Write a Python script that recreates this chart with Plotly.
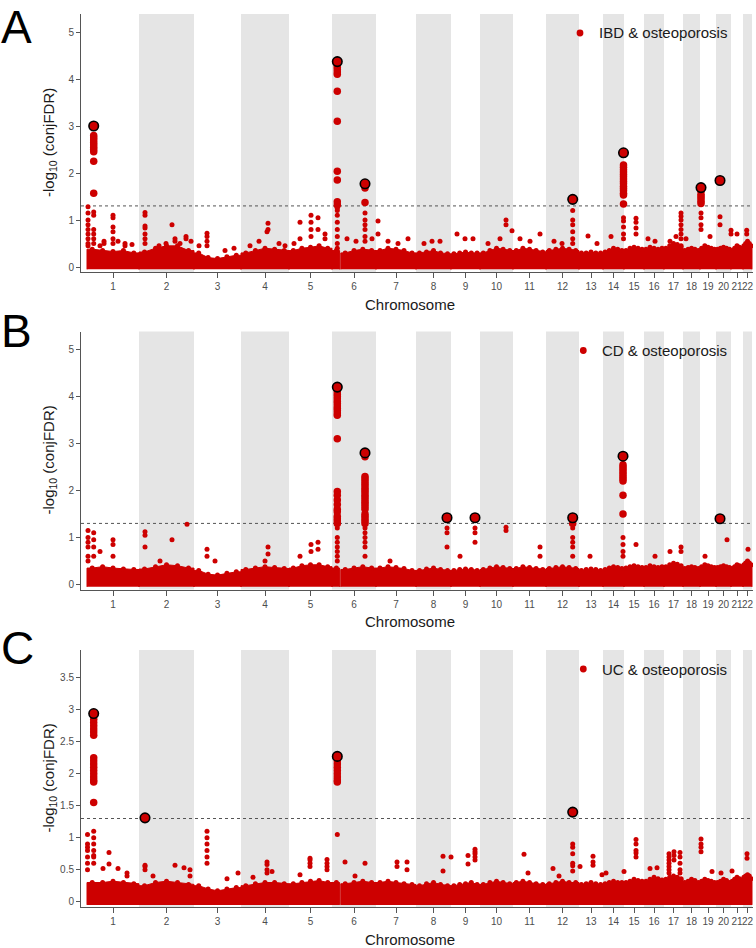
import plotly.graph_objects as go

# ---------------- data ----------------
chrom_names = [str(i) for i in range(1, 23)]
# relative span of each chromosome on the genome axis (SNP-index units)
chrom_span = [52, 55, 47, 48, 43, 44, 40, 35, 29, 33, 33, 33, 24, 21, 20, 20, 19, 17, 16, 15, 12, 9]

panel_labels = ["A", "B", "C"]
legend_labels = ["IBD & osteoporosis", "CD & osteoporosis", "UC & osteoporosis"]
threshold = 1.3

# excluded region (MHC) that leaves a thin gap in the point mass: chrom, from, to
mass_gap = (6, 7.6, 8.8)

# upper envelope of the dense point mass, 5 values per chromosome
A_env = [
    [0.38, 0.35, 0.33, 0.35, 0.30], [0.32, 0.40, 0.45, 0.45, 0.35], [0.30, 0.20, 0.18, 0.22, 0.25],
    [0.30, 0.35, 0.40, 0.38, 0.35], [0.35, 0.40, 0.42, 0.45, 0.40], [0.35, 0.30, 0.35, 0.38, 0.35],
    [0.35, 0.40, 0.38, 0.35, 0.30], [0.30, 0.32, 0.35, 0.30, 0.28], [0.28, 0.30, 0.32, 0.30, 0.30],
    [0.30, 0.35, 0.40, 0.38, 0.35], [0.35, 0.40, 0.38, 0.35, 0.32], [0.35, 0.38, 0.40, 0.38, 0.35],
    [0.30, 0.30, 0.32, 0.30, 0.30], [0.32, 0.35, 0.40, 0.38, 0.35], [0.35, 0.40, 0.42, 0.40, 0.38],
    [0.38, 0.42, 0.40, 0.38, 0.40], [0.40, 0.45, 0.50, 0.48, 0.45], [0.35, 0.38, 0.40, 0.38, 0.35],
    [0.40, 0.45, 0.42, 0.40, 0.38], [0.38, 0.40, 0.42, 0.40, 0.38], [0.35, 0.40, 0.45, 0.42, 0.40],
    [0.45, 0.50, 0.55, 0.50, 0.45]]
B_env = [
    [0.35, 0.38, 0.35, 0.33, 0.32], [0.33, 0.38, 0.42, 0.40, 0.35], [0.30, 0.22, 0.20, 0.24, 0.27],
    [0.32, 0.35, 0.38, 0.36, 0.34], [0.35, 0.40, 0.42, 0.42, 0.38], [0.35, 0.32, 0.35, 0.38, 0.35],
    [0.35, 0.38, 0.36, 0.34, 0.30], [0.30, 0.33, 0.35, 0.32, 0.30], [0.30, 0.32, 0.33, 0.32, 0.30],
    [0.32, 0.35, 0.38, 0.36, 0.34], [0.34, 0.38, 0.36, 0.34, 0.32], [0.34, 0.36, 0.38, 0.36, 0.34],
    [0.30, 0.32, 0.33, 0.32, 0.30], [0.32, 0.35, 0.38, 0.36, 0.34], [0.35, 0.38, 0.40, 0.38, 0.36],
    [0.36, 0.40, 0.38, 0.36, 0.38], [0.38, 0.42, 0.45, 0.43, 0.40], [0.34, 0.36, 0.38, 0.36, 0.34],
    [0.38, 0.42, 0.40, 0.38, 0.36], [0.36, 0.38, 0.40, 0.38, 0.36], [0.34, 0.38, 0.42, 0.40, 0.38],
    [0.42, 0.46, 0.50, 0.46, 0.42]]
C_env = [
    [0.30, 0.30, 0.32, 0.30, 0.28], [0.25, 0.30, 0.32, 0.30, 0.27], [0.25, 0.20, 0.17, 0.20, 0.22],
    [0.25, 0.28, 0.30, 0.30, 0.28], [0.28, 0.30, 0.32, 0.33, 0.30], [0.30, 0.28, 0.30, 0.32, 0.30],
    [0.30, 0.32, 0.30, 0.28, 0.27], [0.25, 0.28, 0.30, 0.27, 0.25], [0.25, 0.27, 0.28, 0.30, 0.27],
    [0.27, 0.30, 0.32, 0.30, 0.28], [0.30, 0.32, 0.30, 0.28, 0.27], [0.28, 0.30, 0.32, 0.30, 0.30],
    [0.27, 0.28, 0.30, 0.28, 0.27], [0.28, 0.30, 0.32, 0.30, 0.30], [0.30, 0.32, 0.35, 0.33, 0.32],
    [0.32, 0.35, 0.38, 0.36, 0.34], [0.35, 0.38, 0.40, 0.38, 0.36], [0.30, 0.32, 0.35, 0.33, 0.30],
    [0.32, 0.35, 0.33, 0.32, 0.30], [0.30, 0.32, 0.35, 0.33, 0.30], [0.32, 0.35, 0.38, 0.36, 0.34],
    [0.38, 0.40, 0.42, 0.40, 0.36]]

# columns of individual SNPs standing out of the mass: chromosome, offset in chromosome, -log10(conjFDR)
A_col_chr = [1, 1, 1, 1, 1, 1, 1, 1, 2, 2, 2, 2, 2, 2, 2, 2, 3, 3, 3, 3, 4, 4, 4, 4, 4, 4, 5, 5, 5, 5, 5,
             6, 6, 6, 6, 6, 7, 7, 7, 7, 8, 8, 8, 9, 9, 9, 10, 10, 10, 10, 11, 11, 11, 12, 12, 12, 13, 13,
             14, 14, 15, 16, 16, 17, 17, 17, 18, 19, 19, 20, 20, 21, 22]
A_col_off = [1, 6.7, 26, 13, 31, 38, 17, 45, 6, 33, 36, 41, 47, 20, 27, 52, 13, 31, 5, 40, 27, 9, 38, 26, 18, 44,
             22, 29, 11, 5, 36, 5.3, 33, 15, 24, 40, 2, 32, 12, 22, 24, 8, 16, 6, 22, 14, 26, 20, 32, 8,
             7, 27, 17, 26.7, 8, 16, 9, 18, 20.5, 8, 12, 11, 4, 17, 6, 12, 3, 1, 10, 4, 15, 6, 3.7]
A_col_vals = [
    [1.28, 1.15, 1.0, 0.9, 0.8, 0.7, 0.6, 0.5, 0.45],
    [2.8, 2.75, 2.7, 2.65, 2.6, 2.55, 2.5, 2.45, 2.25, 1.57, 1.17, 1.1, 0.8, 0.7, 0.6, 0.5],
    [1.1, 1.05, 0.85, 0.75, 0.6, 0.5], [0.45], [0.55], [0.5, 0.45], [0.55, 0.5], [0.48],
    [1.16, 1.1, 0.87, 0.83, 0.7, 0.6, 0.5], [0.9], [0.6, 0.55], [0.5], [0.65, 0.6], [0.45], [0.5], [0.55],
    [0.72, 0.65, 0.55, 0.45], [0.35], [0.45], [0.4],
    [0.93, 0.8], [0.45], [0.5], [0.75], [0.55], [0.45],
    [1.1, 0.95, 0.8, 0.65], [1.05, 0.8], [0.95, 0.6], [0.5], [0.7, 0.6],
    [4.3, 4.25, 4.2, 4.15, 4.1, 3.74, 3.1, 2.04, 1.85, 1.39, 1.32, 1.25, 1.2, 1.1, 0.95, 0.8, 0.65, 0.5, 0.4],
    [1.68, 1.37, 1.15, 1.0, 0.9, 0.8, 0.65, 0.55], [0.6], [0.55], [0.6],
    [0.98, 0.7], [0.6], [0.55], [0.5],
    [0.55], [0.5], [0.55],
    [0.7], [0.6], [0.6],
    [1.0, 0.9], [0.6], [0.77], [0.5],
    [0.6], [0.7], [0.55],
    [1.2, 1.0, 0.9, 0.75, 0.6, 0.5], [0.55], [0.5],
    [0.66], [0.5],
    [2.17, 2.12, 2.07, 2.02, 1.97, 1.92, 1.87, 1.82, 1.77, 1.72, 1.67, 1.62, 1.57, 1.53, 1.34, 1.05, 0.98, 0.85, 0.7, 0.6],
    [0.65],
    [1.04, 0.95, 0.83, 0.7], [0.55], [0.6],
    [1.15, 1.08, 1.0, 0.9, 0.8, 0.7, 0.6], [0.55], [0.65], [0.6],
    [1.62, 1.55, 1.5, 1.45, 1.4, 1.35, 1.15, 1.05, 0.9, 0.8], [0.65],
    [1.07, 0.9], [0.78, 0.7], [0.7], [0.78, 0.7]]
A_lead_chr = [1, 6, 6, 12, 14, 19, 20]
A_lead_off = [6.7, 5.3, 33, 26.7, 20.5, 1, 4]
A_lead_val = [3.0, 4.37, 1.77, 1.44, 2.43, 1.69, 1.84]

B_col_chr = [1, 1, 1, 1, 2, 2, 2, 2, 3, 3, 4, 4, 5, 5, 5, 6, 6, 7, 8, 9, 9, 10, 11, 12, 13, 14, 15, 16,
             17, 17, 19, 20, 22]
B_col_off = [1, 6.7, 26, 13, 6, 33, 48, 21, 13, 21, 27, 24, 22, 29, 11, 5.3, 33, 14, 31, 24, 9, 26, 27, 26.7,
             11, 20, 12, 11, 17, 6, 5, 11, 5]
B_col_vals = [
    [1.15, 1.0, 0.9, 0.8, 0.6, 0.5], [1.1, 0.95, 0.8, 0.6], [0.95, 0.85, 0.6], [0.7],
    [1.12, 1.05, 0.8], [0.95], [1.28], [0.5],
    [0.75, 0.6], [0.5], [0.8, 0.65], [0.5], [0.85, 0.7], [0.9, 0.75], [0.6],
    [4.1, 4.05, 4.0, 3.95, 3.9, 3.85, 3.8, 3.75, 3.7, 3.65, 3.6, 3.1, 1.98, 1.9, 1.8, 1.7, 1.6, 1.55,
     1.45, 1.4, 1.35, 1.3, 1.2, 1.0, 0.9, 0.8, 0.7, 0.6, 0.5],
    [2.72, 2.3, 2.25, 2.2, 2.15, 2.1, 2.05, 2.0, 1.95, 1.9, 1.85, 1.8, 1.75, 1.7, 1.65, 1.6, 1.5, 1.45,
     1.4, 1.35, 1.3, 1.2, 1.1, 1.0, 0.9, 0.8, 0.6],
    [0.5],
    [1.2, 1.1, 0.8], [1.2, 1.1, 0.9], [0.6], [1.22, 1.15], [0.8, 0.6],
    [1.3, 1.2, 1.0, 0.9, 0.8, 0.6], [0.6],
    [2.55, 2.5, 2.45, 2.4, 2.35, 2.3, 2.25, 2.2, 1.9, 1.5, 1.0, 0.85, 0.7, 0.6],
    [0.85], [0.6], [0.8, 0.7], [0.7], [0.6], [0.95], [0.75]]
B_lead_chr = [6, 6, 8, 9, 12, 14, 20]
B_lead_off = [5.3, 33, 31, 24, 26.7, 20, 4]
B_lead_val = [4.2, 2.8, 1.42, 1.42, 1.42, 2.73, 1.4]

C_col_chr = [1, 1, 1, 1, 1, 1, 2, 2, 2, 2, 2, 3, 3, 3, 4, 4, 4, 5, 5, 5, 6, 6, 6, 6, 7, 7, 8, 8, 9, 9,
             11, 11, 12, 12, 12, 13, 13, 13, 14, 14, 15, 16, 16, 17, 17, 17, 18, 19, 20, 20, 22]
C_col_off = [0.5, 6.7, 16, 22, 31, 40, 6, 14, 36, 45, 51, 13, 33, 44, 12, 26, 31, 11, 21, 38, 5.3, 13, 23, 33,
             21, 31, 27, 35, 17, 24, 11, 15, 7, 13, 26.7, 1, 14, 23, 3, 21, 12, 6, 13, 5, 10, 16, 18, 12, 5, 16, 4]
C_col_vals = [
    [1.05, 0.9, 0.85, 0.8, 0.7, 0.6, 0.5],
    [2.85, 2.8, 2.75, 2.7, 2.65, 2.6, 2.25, 2.2, 2.15, 2.1, 2.05, 2.0, 1.95, 1.9, 1.87, 1.55,
     1.1, 1.0, 0.9, 0.8, 0.72, 0.7, 0.6],
    [0.52], [0.77, 0.59], [0.52], [0.45, 0.4],
    [0.57, 0.55, 0.5], [0.4], [0.57], [0.53], [0.5, 0.4],
    [1.1, 1.0, 0.9, 0.8, 0.7, 0.6], [0.36], [0.45],
    [0.38], [0.62, 0.58, 0.5, 0.45], [0.47],
    [0.42], [0.68, 0.65, 0.6, 0.55], [0.66, 0.6, 0.55, 0.5],
    [2.2, 2.15, 2.1, 2.05, 2.0, 1.95, 1.9, 1.87, 1.05], [0.62], [0.4], [0.6],
    [0.62, 0.55], [0.62, 0.5], [0.71, 0.48], [0.7], [0.72, 0.59], [0.82, 0.78, 0.75, 0.7, 0.65],
    [0.74], [0.45], [0.52], [0.4], [0.9, 0.85, 0.75, 0.6, 0.56, 0.48],
    [0.55], [0.71, 0.62, 0.57], [0.42], [0.45], [0.47],
    [0.97, 0.9, 0.8, 0.76, 0.7], [0.52], [0.53],
    [0.75, 0.7, 0.65, 0.6, 0.55, 0.5, 0.45], [0.78, 0.72, 0.65], [0.77, 0.7, 0.6, 0.5, 0.45],
    [0.98, 0.9, 0.85, 0.78], [0.47], [0.45], [0.48], [0.75, 0.68]]
C_lead_chr = [1, 2, 6, 12]
C_lead_off = [6.7, 6, 5.3, 26.7]
C_lead_val = [2.94, 1.31, 2.27, 1.4]

A_yticks = [0, 1, 2, 3, 4, 5]
C_yticks = [0, 0.5, 1, 1.5, 2, 2.5, 3, 3.5]

# ---------------- layout geometry ----------------
W, H = 756, 948
RED = "#CD0000"
FONT = "Liberation Sans, Arial, Helvetica, sans-serif"
panel_top = [14, 331.5, 650]
panel_bot = [272, 589.5, 907]
letter_y = [27, 331, 647.5]
y_ranges = [[-0.106, 5.383], [-0.106, 5.383], [-0.083, 3.933]]
x_left_px, x_right_px = 81, 753

starts = []
acc = 0
for w in chrom_span:
    starts.append(acc)
    acc += w
genome_len = acc
tick_pos = [starts[i] + chrom_span[i] / 2 for i in range(22)]
x_range = [-(87 - x_left_px), genome_len + (x_right_px - 752)]


def mass_polys(env):
    xs, ys = [], []
    vx, vy = [], []
    for c in range(22):
        st, w, vals = starts[c], chrom_span[c], env[c]
        n = len(vals)
        pts = [(st, vals[0])] + [(st + (i + 0.5) * w / n, vals[i]) for i in range(n)] + [(st + w, vals[-1])]
        vx += [p[0] for p in pts[1:-1]]
        vy += [p[1] for p in pts[1:-1]]
        segs = [pts]
        if c + 1 == mass_gap[0]:
            g0, g1 = st + mass_gap[1], st + mass_gap[2]
            left = [p for p in pts if p[0] <= g0]
            right = [p for p in pts if p[0] >= g1]
            left.append((g0, left[-1][1]))
            right.insert(0, (g1, right[0][1]))
            segs = [left, right]
        for seg in segs:
            xs += [seg[0][0]] + [p[0] for p in seg] + [seg[-1][0], None]
            ys += [-0.05] + [p[1] for p in seg] + [-0.05, None]
    return xs, ys, vx, vy


panels = [
    (A_env, A_col_chr, A_col_off, A_col_vals, A_lead_chr, A_lead_off, A_lead_val),
    (B_env, B_col_chr, B_col_off, B_col_vals, B_lead_chr, B_lead_off, B_lead_val),
    (C_env, C_col_chr, C_col_off, C_col_vals, C_lead_chr, C_lead_off, C_lead_val),
]

fig = go.Figure()
shapes = []
annotations = []

for k, (env, cc, co, cv, lc, lo, lv) in enumerate(panels):
    xa = "x" if k == 0 else f"x{k + 1}"
    ya = "y" if k == 0 else f"y{k + 1}"
    mx, my, vx, vy = mass_polys(env)
    fig.add_trace(go.Scatter(x=mx, y=my, xaxis=xa, yaxis=ya, mode="lines", fill="toself",
                             fillcolor=RED, line=dict(color=RED, width=1), hoverinfo="skip"))
    fig.add_trace(go.Scatter(x=vx, y=vy, xaxis=xa, yaxis=ya, mode="markers",
                             marker=dict(color=RED, size=5, opacity=1), hoverinfo="skip"))
    px_, py_, ps_ = [], [], []
    for ch, off, vals in zip(cc, co, cv):
        for v in vals:
            px_.append(starts[ch - 1] + off)
            py_.append(v)
            ps_.append(7.5 if v >= threshold else 5)
    fig.add_trace(go.Scatter(x=px_, y=py_, xaxis=xa, yaxis=ya, mode="markers",
                             marker=dict(color=RED, size=ps_, opacity=1, line=dict(width=0))))
    fig.add_trace(go.Scatter(x=[starts[ch - 1] + off for ch, off in zip(lc, lo)], y=lv,
                             xaxis=xa, yaxis=ya, mode="markers",
                             marker=dict(color=RED, size=9.5, opacity=1, line=dict(color="black", width=1.6))))

    # grey bands for even chromosomes
    for c in range(1, 22, 2):
        shapes.append(dict(type="rect", xref=xa, yref=f"{ya} domain", x0=starts[c],
                           x1=starts[c] + chrom_span[c], y0=0, y1=1,
                           fillcolor="#E5E5E5", line=dict(width=0), layer="below"))
    # threshold line
    shapes.append(dict(type="line", xref=f"{xa} domain", yref=ya, x0=0, x1=1, y0=threshold, y1=threshold,
                       line=dict(color="#555555", width=1, dash="dot"), layer="below"))

    top, bot = panel_top[k], panel_bot[k]
    ydom = [1 - bot / H, 1 - top / H]
    yt = A_yticks if k < 2 else C_yticks
    fig.layout[("yaxis" if k == 0 else f"yaxis{k + 1}")] = dict(
        domain=ydom, range=y_ranges[k], anchor=xa, tickvals=yt, ticktext=[f"{t:g}" for t in yt],
        showline=True, linecolor="#555555", linewidth=1, ticks="outside", ticklen=4, tickcolor="#555555",
        showgrid=False, zeroline=False, tickfont=dict(size=10, color="#4D4D4D", family=FONT))
    fig.layout[("xaxis" if k == 0 else f"xaxis{k + 1}")] = dict(
        domain=[x_left_px / W, x_right_px / W], range=x_range, anchor=ya,
        tickvals=tick_pos, ticktext=chrom_names, tickangle=0,
        showline=True, linecolor="#555555", linewidth=1, ticks="outside", ticklen=5, tickcolor="#555555",
        showgrid=False, zeroline=False, tickfont=dict(size=10, color="#4D4D4D", family=FONT))

    # axis titles
    annotations.append(dict(text="Chromosome", xref="paper", yref="paper", x=410 / W, y=1 - (bot + 32) / H,
                            xanchor="center", yanchor="middle", showarrow=False,
                            font=dict(size=15, color="#1A1A1A", family=FONT)))
    annotations.append(dict(text="-log<sub>10</sub> (conjFDR)", xref="paper", yref="paper", x=49 / W,
                            y=1 - ((top + bot) / 2) / H, textangle=-90, xanchor="center", yanchor="middle",
                            showarrow=False, font=dict(size=15, color="#1A1A1A", family=FONT)))
    # panel letter
    annotations.append(dict(text=panel_labels[k], xref="paper", yref="paper", x=0, y=1 - letter_y[k] / H,
                            xanchor="left", yanchor="middle", showarrow=False, borderpad=0,
                            font=dict(size=46, color="black", family=FONT)))
    # legend
    ly = top + 19
    tx = 596.7 if k == 0 else 600
    annotations.append(dict(text=legend_labels[k], xref="paper", yref="paper", x=tx / W, y=1 - ly / H,
                            xanchor="left", yanchor="middle", showarrow=False,
                            font=dict(size=15, color="#1A1A1A", family=FONT)))
    cx = tx - 16.7
    shapes.append(dict(type="circle", xref="paper", yref="paper", x0=(cx - 3.4) / W, x1=(cx + 3.4) / W,
                       y0=1 - (ly + 3.4) / H, y1=1 - (ly - 3.4) / H, fillcolor=RED, line=dict(width=0)))

fig.update_layout(width=W, height=H, margin=dict(l=0, r=0, t=0, b=0), showlegend=False,
                  plot_bgcolor="white", paper_bgcolor="white", shapes=shapes, annotations=annotations,
                  font=dict(family=FONT))
fig.write_html("out.html")
